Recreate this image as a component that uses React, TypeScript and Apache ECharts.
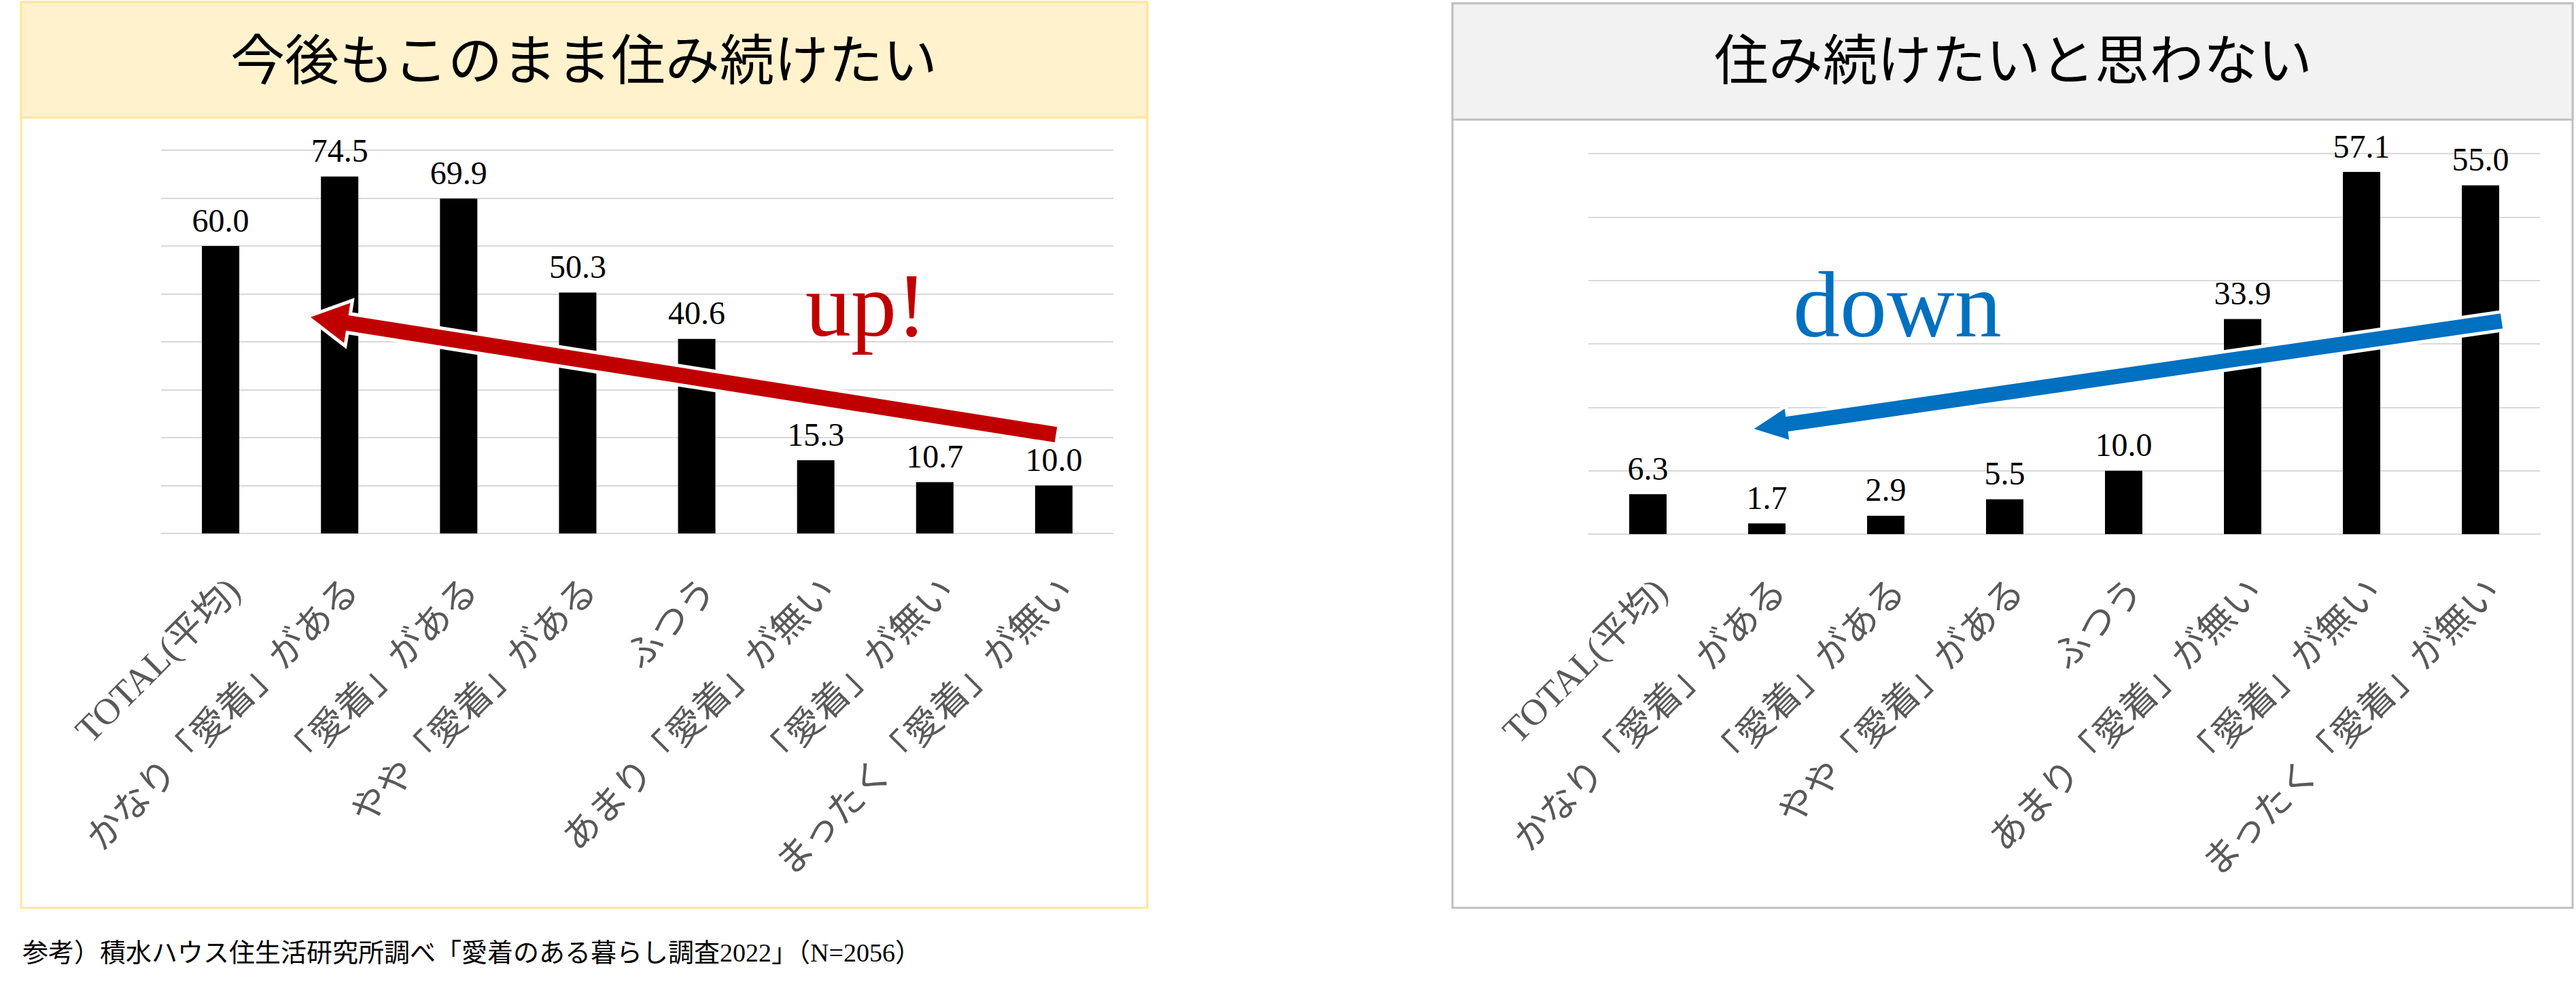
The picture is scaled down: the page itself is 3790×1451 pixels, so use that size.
import React, { useEffect, useRef } from 'react';
import * as echarts from 'echarts';

const categories = [
  'TOTAL(平均)',
  'かなり「愛着」がある',
  '「愛着」がある',
  'やや「愛着」がある',
  'ふつう',
  'あまり「愛着」が無い',
  '「愛着」が無い',
  'まったく「愛着」が無い',
];
const stayValues = [60.0, 74.5, 69.9, 50.3, 40.6, 15.3, 10.7, 10.0];
const leaveValues = [6.3, 1.7, 2.9, 5.5, 10.0, 33.9, 57.1, 55.0];
const stayAxisMax = 80;
const leaveAxisMax = 60;
const tickStep = 10;

const stayTitle = '今後もこのまま住み続けたい';
const leaveTitle = '住み続けたいと思わない';
const footnote = '参考）積水ハウス住生活研究所調べ「愛着のある暮らし調査2022」（N=2056）';

const FONT = '"Liberation Serif", "Noto Sans CJK JP", serif';

// block arrow outline from tail to tip
function arrowPoints(tail: number[], tip: number[], shaft: number, headLen: number, headHalf: number) {
  const dx = tip[0] - tail[0];
  const dy = tip[1] - tail[1];
  const len = Math.hypot(dx, dy);
  const ux = dx / len;
  const uy = dy / len;
  const nx = -uy;
  const ny = ux;
  const bx = tip[0] - ux * headLen;
  const by = tip[1] - uy * headLen;
  const h = shaft / 2;
  return [
    [tail[0] + nx * h, tail[1] + ny * h],
    [bx + nx * h, by + ny * h],
    [bx + nx * headHalf, by + ny * headHalf],
    tip,
    [bx - nx * headHalf, by - ny * headHalf],
    [bx - nx * h, by - ny * h],
    [tail[0] - nx * h, tail[1] - ny * h],
  ];
}

const App = () => {
  const chartRef = useRef<HTMLDivElement>(null);

  useEffect(() => {
    const chart = echarts.init(chartRef.current, null, { renderer: 'svg' });

    const xAxisBase = {
      type: 'category',
      data: categories,
      axisTick: { show: false },
      axisLine: { lineStyle: { color: '#D9D9D9', width: 2 } },
      axisLabel: {
        interval: 0,
        rotate: 45,
        align: 'right',
        verticalAlign: 'top',
        margin: 56,
        color: '#595959',
        fontSize: 54,
        fontFamily: FONT,
      },
    };
    const yAxisBase = {
      type: 'value',
      min: 0,
      interval: tickStep,
      axisLine: { show: false },
      axisTick: { show: false },
      axisLabel: { show: false },
      splitLine: { lineStyle: { color: '#D9D9D9', width: 2 } },
    };
    const barLabel = {
      show: true,
      position: 'top',
      distance: 14,
      color: '#000',
      fontSize: 48,
      fontFamily: FONT,
      formatter: (p: any) => Number(p.value).toFixed(1),
    };

    const option = {
      animation: false,
      textStyle: { fontFamily: FONT },
      grid: [
        { left: 237, top: 221, width: 1401, height: 564 },
        { left: 2337, top: 226, width: 1400, height: 560 },
      ],
      xAxis: [
        { ...xAxisBase, gridIndex: 0 },
        { ...xAxisBase, gridIndex: 1 },
      ],
      yAxis: [
        { ...yAxisBase, gridIndex: 0, max: stayAxisMax },
        { ...yAxisBase, gridIndex: 1, max: leaveAxisMax },
      ],
      series: [
        {
          name: stayTitle,
          type: 'bar',
          xAxisIndex: 0,
          yAxisIndex: 0,
          data: stayValues,
          barWidth: 55,
          itemStyle: { color: '#000' },
          label: barLabel,
        },
        {
          name: leaveTitle,
          type: 'bar',
          xAxisIndex: 1,
          yAxisIndex: 1,
          data: leaveValues,
          barWidth: 55,
          itemStyle: { color: '#000' },
          label: barLabel,
        },
      ],
      graphic: [
        // left panel
        {
          type: 'rect',
          z: -10,
          shape: { x: 31, y: 3, width: 1657, height: 1333 },
          style: { fill: '#fff', stroke: '#FFE699', lineWidth: 3 },
        },
        {
          type: 'rect',
          z: -9,
          shape: { x: 31, y: 3, width: 1657, height: 170 },
          style: { fill: '#FFF2CC', stroke: '#FFE699', lineWidth: 3 },
        },
        {
          type: 'text',
          z: 50,
          style: {
            text: stayTitle,
            x: 859,
            y: 90,
            align: 'center',
            verticalAlign: 'middle',
            fontSize: 80,
            fontFamily: FONT,
            fill: '#000',
          },
        },
        // right panel
        {
          type: 'rect',
          z: -10,
          shape: { x: 2137, y: 5, width: 1648, height: 1331 },
          style: { fill: '#fff', stroke: '#BFBFBF', lineWidth: 3 },
        },
        {
          type: 'rect',
          z: -9,
          shape: { x: 2137, y: 5, width: 1648, height: 171 },
          style: { fill: '#F2F2F2', stroke: '#BFBFBF', lineWidth: 3 },
        },
        {
          type: 'text',
          z: 50,
          style: {
            text: leaveTitle,
            x: 2962,
            y: 90,
            align: 'center',
            verticalAlign: 'middle',
            fontSize: 80,
            fontFamily: FONT,
            fill: '#000',
          },
        },
        // arrows
        {
          type: 'polygon',
          z: 100,
          shape: { points: arrowPoints([1556, 640], [452, 466], 28, 62, 34) },
          style: { fill: '#C00000', stroke: '#fff', lineWidth: 5 },
        },
        {
          type: 'polygon',
          z: 100,
          shape: { points: arrowPoints([3683, 472], [2575, 632], 27, 57, 27) },
          style: { fill: '#0070C0', stroke: '#fff', lineWidth: 5 },
        },
        {
          type: 'text',
          z: 100,
          style: {
            text: 'up!',
            x: 1185,
            y: 449,
            align: 'left',
            verticalAlign: 'middle',
            fontSize: 134,
            fontFamily: FONT,
            fill: '#C00000',
          },
        },
        {
          type: 'text',
          z: 100,
          style: {
            text: 'down',
            x: 2638,
            y: 448,
            align: 'left',
            verticalAlign: 'middle',
            fontSize: 138,
            fontFamily: FONT,
            fill: '#0070C0',
          },
        },
        {
          type: 'text',
          z: 50,
          style: {
            text: footnote,
            x: 33,
            y: 1402,
            align: 'left',
            verticalAlign: 'middle',
            fontSize: 38,
            fontFamily: FONT,
            fill: '#000',
          },
        },
      ],
    };

    chart.setOption(option);

    return () => {
      chart.dispose();
    };
  }, []);

  return (
    <div
      ref={chartRef}
      style={{ position: 'absolute', left: 0, top: 0, width: '3790px', height: '1451px', background: '#fff' }}
    />
  );
};

export default App;
